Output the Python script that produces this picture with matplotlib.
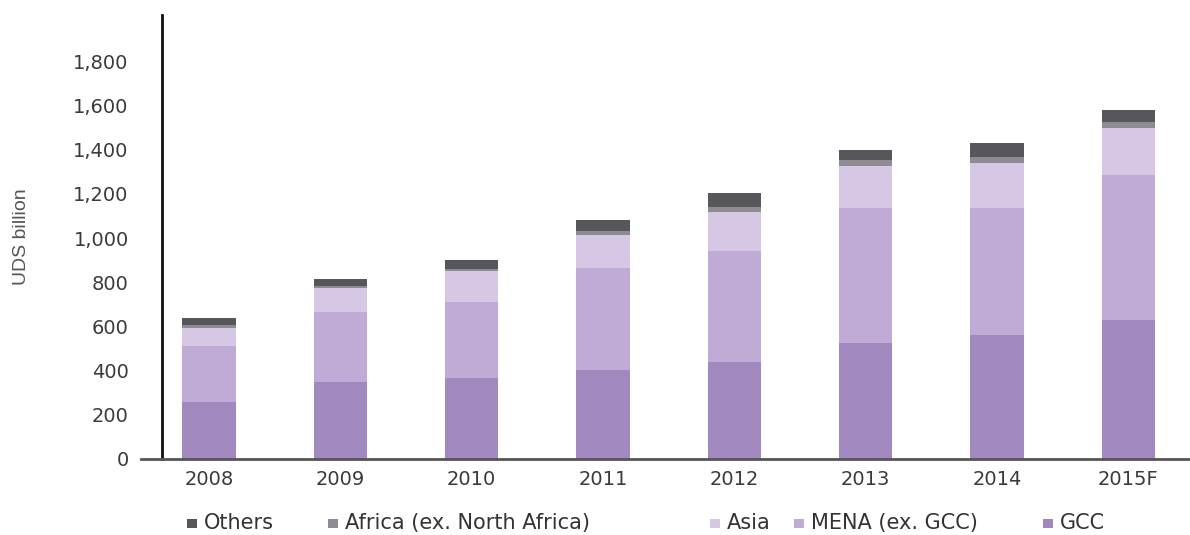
import matplotlib.pyplot as plt
from matplotlib.patches import Rectangle
import numpy as np

# ── data (USD billion) ────────────────────────────────────────────────────────
YEARS = ["2008", "2009", "2010", "2011", "2012", "2013", "2014", "2015F"]
GCC = [260, 350, 365, 405, 440, 525, 561, 629]
MENA = [250, 315, 345, 460, 500, 611, 575, 656]
ASIA = [85, 110, 140, 150, 180, 190, 203, 213]
AFRICA = [10, 10, 12, 15, 20, 27, 27, 27]
OTHERS = [35, 30, 38, 50, 65, 45, 63, 54]

SERIES = [
    ("GCC", GCC, "#a189bf"),
    ("MENA (ex. GCC)", MENA, "#c0abd6"),
    ("Asia", ASIA, "#d6c8e4"),
    ("Africa (ex. North Africa)", AFRICA, "#8e8c92"),
    ("Others", OTHERS, "#57565a"),
]
Y_TICKS = [0, 200, 400, 600, 800, 1000, 1200, 1400, 1600, 1800]

# legend layout (figure x of each swatch), in display order
LEGEND_ORDER = ["Others", "Africa (ex. North Africa)", "Asia", "MENA (ex. GCC)", "GCC"]
LEGEND_X = [187, 328, 710, 794, 1043]

fig = plt.figure(figsize=(11.9, 5.35), dpi=100)
ax = fig.add_axes([162 / 1190, 1 - 459 / 535, 1 - 162 / 1190, (459 - 15) / 535])

x = np.arange(len(YEARS))
bottom = np.zeros(len(YEARS))
for name, vals, color in SERIES:
    ax.bar(x, vals, bottom=bottom, width=0.405, color=color, linewidth=0, zorder=2)
    bottom += np.array(vals)

ax.set_xlim(-0.358, 7.47)
ax.set_ylim(0, 2010)
ax.set_xticks(x)
ax.set_xticklabels(YEARS, fontfamily="DejaVu Sans")
ax.set_yticks(Y_TICKS)
ax.set_yticklabels([f"{v:,}" for v in Y_TICKS], fontfamily="DejaVu Sans")
ax.tick_params(axis="both", length=0, labelsize=14, colors="#3a3a3a")
ax.tick_params(axis="y", pad=24)
ax.tick_params(axis="x", pad=8)

for s in ["top", "right", "bottom"]:
    ax.spines[s].set_visible(False)
ax.spines["left"].set_color("#111111")
ax.spines["left"].set_linewidth(2)
ax.axhline(0, xmin=-0.02, xmax=1, color="#555555", lw=2, clip_on=False, zorder=3)

ax.set_ylabel("UDS billion", family="Liberation Sans", fontsize=14,
              color="#555555")
ax.yaxis.set_label_coords(-0.128, 0.5)

# manual legend row under the axis
colors = {name: color for name, _, color in SERIES}
for name, lx in zip(LEGEND_ORDER, LEGEND_X):
    fig.patches.append(Rectangle((lx / 1190, 1 - 528 / 535), 10 / 1190, 9 / 535,
                                 transform=fig.transFigure, facecolor=colors[name],
                                 edgecolor="none"))
    fig.text((lx + 17) / 1190, 1 - 523 / 535, name, family="DejaVu Sans",
             fontsize=15, color="#333333", va="center", ha="left")

fig.savefig("out.png", dpi=100)
